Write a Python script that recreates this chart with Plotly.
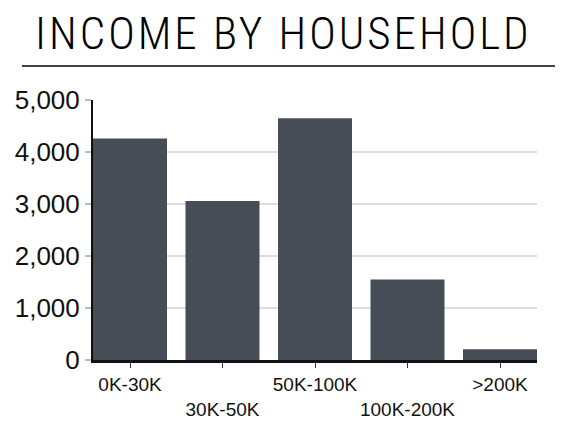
import plotly.graph_objects as go

categories = ["0K-30K", "30K-50K", "50K-100K", "100K-200K", ">200K"]
households = [4260, 3060, 4650, 1550, 205]
tick_labels = ["0K-30K", "<br>30K-50K", "50K-100K", "<br>100K-200K", ">200K"]
y_ticks = [0, 1000, 2000, 3000, 4000, 5000]
y_tick_labels = ["0", "1,000", "2,000", "3,000", "4,000", "5,000"]
title_text = "INCOME BY HOUSEHOLD"

# page offset from default body margin
OFF = 8
W, H = 564 - OFF, 425 - OFF
L, R, T, B = 93 - OFF, 27, 100 - OFF, 65

fig = go.Figure(go.Bar(
    x=list(range(len(categories))), y=households, width=0.8,
    marker=dict(color="#474d56", line=dict(width=0)),
))

def px_to_paper_x(px):
    return (px - OFF - L) / (W - L - R)

def py_to_paper_y(py):
    return (H - B - (py - OFF)) / (H - T - B)

spaced_title = '<span style="letter-spacing:3px">' + title_text + "</span>"

fig.update_layout(
    width=W, height=H,
    margin=dict(l=L, r=R, t=T, b=B, pad=0, autoexpand=False),
    paper_bgcolor="white", plot_bgcolor="white",
    showlegend=False,
    xaxis=dict(
        range=[-0.4, 4.4], tickmode="array",
        tickvals=list(range(len(categories))), ticktext=tick_labels,
        tickangle=0, automargin=False,
        showgrid=False, zeroline=False,
        showline=True, linecolor="#111", linewidth=3,
        ticks="outside", ticklen=5, tickcolor="#333", tickwidth=1,
        tickfont=dict(family="Liberation Sans, Arial, sans-serif", size=19, color="#111"),
    ),
    yaxis=dict(
        range=[0, 5000], tickmode="array", tickvals=y_ticks, ticktext=y_tick_labels,
        automargin=False,
        showgrid=True, gridcolor="#dddddd", gridwidth=2,
        zeroline=False, showline=True, linecolor="#111", linewidth=2,
        ticks="outside", ticklen=6, tickcolor="#bbbbbb", tickwidth=2,
        tickfont=dict(family="Liberation Sans, Arial, sans-serif", size=26, color="#111"),
    ),
    annotations=[dict(
        text=spaced_title, xref="paper", yref="paper",
        x=px_to_paper_x(283), y=py_to_paper_y(33),
        xanchor="center", yanchor="middle", showarrow=False,
        font=dict(family="Roboto Condensed, sans-serif", size=45, weight=300, color="#000"),
    )],
    shapes=[dict(
        type="line", xref="paper", yref="paper",
        x0=px_to_paper_x(22), x1=px_to_paper_x(555),
        y0=py_to_paper_y(66), y1=py_to_paper_y(66),
        line=dict(color="#444", width=2),
    )],
)

fig.write_html("out.html")
